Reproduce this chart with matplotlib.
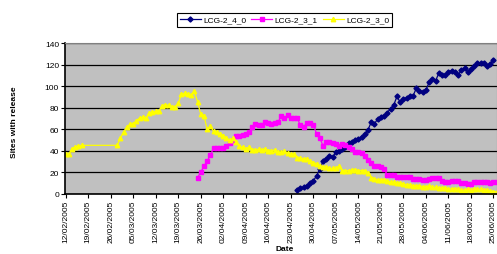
import numpy as np
import matplotlib
matplotlib.use('Agg')
import matplotlib.pyplot as plt
import matplotlib.dates as mdates

plt.rcParams['font.family'] = ['Liberation Sans', 'DejaVu Sans']

start = np.datetime64('2005-02-12')

# LCG-2_4_0 (daily, from day 72)
v240_first = 72
v240 = [3, 5, 6, 7.5, 9.5, 12, 16.5, 23, 30, 32.5, 35.5, 34, 38.5, 40, 41.5, 43, 47, 48.5,
        49.5, 51, 52.5, 55.5, 59.5, 66.5, 65, 69.5, 71, 72.5, 75.5, 79, 82.5, 90.5, 85, 88.5,
        89, 90.5, 91, 98, 96, 94.5, 96.5, 103.5, 107, 105, 112, 110.5, 110.5, 113.5, 114.5,
        113, 110, 115, 116.5, 113.5, 116, 118.5, 121.5, 121.5, 121.5, 118.5, 121, 124.5]

# LCG-2_3_1 (daily, from day 41)
v231_first = 41
v231 = [15, 20, 25.5, 30.5, 36, 42.5, 42.5, 42.5, 42.5, 44.5, 47, 49.5, 53.5, 54, 54.5,
        55.5, 57, 62.5, 65, 63.5, 63.5, 67, 65.5, 65, 65.5, 66.5, 72, 70.5, 73, 70, 70, 70,
        63.5, 62.5, 65.5, 66, 64, 56, 52, 44.7, 48.5, 48, 47, 46, 44.7, 46, 45.5, 43.5, 41.5,
        38.5, 38.5, 38, 35.5, 31.5, 29, 26, 25.5, 24.5, 23, 17.5, 17.5, 17.5, 16, 16, 15.5,
        15.5, 15.5, 14, 13.5, 13.5, 13, 13, 13.5, 15, 15, 14.5, 11.5, 11, 11, 11.5, 12, 11.5,
        10, 9.5, 9, 9, 10.5, 10.5, 10.5, 11, 10.5, 10, 10.5, 11]

# LCG-2_3_0 (two daily runs: days 0-5 and from day 16)
v230_a_first = 0
v230_a = [37, 37, 42, 43.5, 44.5, 45]
v230_b_first = 16
v230_b = [45, 51.5, 57.5, 62, 64.5, 65, 68, 70.5, 71, 70, 75, 76, 76.5, 77, 82, 82.5, 82.5,
          81, 80.5, 84, 92.5, 93.5, 92.5, 92, 95.5, 85.5, 74, 72.5, 60, 63, 58, 57, 56, 54,
          51.5, 50, 51.5, 48, 44.5, 43, 42, 43, 41, 40.5, 41.5, 40.5, 41.5, 40, 39.5, 41, 39,
          38.5, 39.5, 38, 37, 37, 33, 33, 32.5, 32, 30.5, 29, 28, 26, 25, 24.5, 23.5, 23.5,
          23.5, 25.5, 21.5, 21.5, 21.5, 22, 22.5, 21.5, 21.5, 21.5, 19.5, 15, 14, 13, 13, 13,
          12, 11, 10.5, 10, 10, 9, 8.5, 8, 7.5, 7.5, 7.5, 6.5, 6.5, 7, 6, 6, 5.5, 5.5, 5, 4.5,
          4.5, 4.5, 4, 3.5, 3.5, 4, 3.5, 4, 4.5, 4, 3.5, 3, 2.5, 2, 2]


def days(first, vals):
    return start + np.arange(first, first + len(vals))


d230 = np.concatenate([days(v230_a_first, v230_a), days(v230_b_first, v230_b)])
y230 = v230_a + v230_b

fig = plt.figure(figsize=(4.97, 2.55), dpi=100)
ax = fig.add_axes([65.3 / 497, 1 - 194.7 / 255, (497 - 65.3) / 497, (194.7 - 44.2) / 255])
ax.set_facecolor('#c0c0c0')

ax.plot(days(v240_first, v240), v240, color='#000080', marker='D', markersize=2.6,
        linewidth=0.9, label='LCG-2_4_0')
ax.plot(days(v231_first, v231), v231, color='#ff00ff', marker='s', markersize=2.8,
        linewidth=0.9, label='LCG-2_3_1')
ax.plot(d230, y230, color='#ffff00', marker='^', markersize=3.2,
        linewidth=0.9, label='LCG-2_3_0')

x0 = mdates.date2num(start)
ax.set_xlim(x0 - 0.1, x0 + 134.1)
ax.set_ylim(0, 140)
ax.set_yticks(range(0, 141, 20))
ax.set_xticks(start + np.arange(0, 134, 7))
ax.xaxis.set_major_formatter(mdates.DateFormatter('%d/%m/%Y'))
ax.grid(axis='y', color='black', linewidth=0.9)
ax.set_axisbelow(True)

for lbl in ax.get_xticklabels():
    lbl.set_rotation(90)
ax.tick_params(labelsize=6, length=3, width=0.8, pad=1.5)
ax.spines['left'].set_linewidth(1.2)
ax.spines['bottom'].set_linewidth(1.2)
ax.spines['top'].set_color('#808080')
ax.spines['right'].set_color('#808080')

fig.text(15 / 497, 1 - 122 / 255, 'Sites with release', rotation=90, ha='center',
         va='center', fontsize=6, fontweight='bold')
fig.text(285 / 497, 1 - 246.5 / 255, 'Date', ha='center', va='top', fontsize=6,
         fontweight='bold')

leg = fig.legend(loc='center', bbox_to_anchor=(284.5 / 497, 1 - 20.8 / 255), ncol=3,
                 fontsize=6, frameon=True, fancybox=False, edgecolor='black',
                 handlelength=2.5, handletextpad=0.3, columnspacing=0.6,
                 borderpad=0.35, framealpha=1)
leg.get_frame().set_linewidth(0.8)

fig.savefig('out.png', dpi=100)
